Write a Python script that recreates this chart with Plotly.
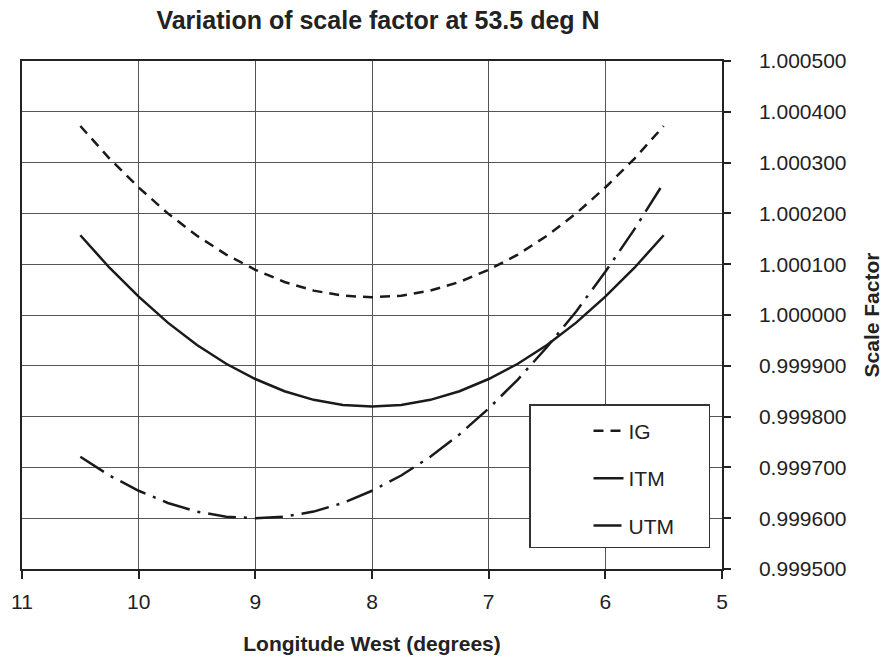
import plotly.graph_objects as go

longitude = [10.5, 10.25, 10.0, 9.75, 9.5, 9.25, 9.0, 8.75, 8.5, 8.25, 8.0,
             7.75, 7.5, 7.25, 7.0, 6.75, 6.5, 6.25, 6.0, 5.75, 5.5]

ig = [1.000372, 1.000308, 1.000251, 1.000200, 1.000156, 1.000119, 1.000089,
      1.000065, 1.000048, 1.000038, 1.000035, 1.000038, 1.000048, 1.000065,
      1.000089, 1.000119, 1.000156, 1.000200, 1.000251, 1.000308, 1.000372]

itm = [1.000157, 1.000093, 1.000036, 0.999985, 0.999941, 0.999904, 0.999874,
       0.999850, 0.999833, 0.999823, 0.999820, 0.999823, 0.999833, 0.999850,
       0.999874, 0.999904, 0.999941, 0.999985, 1.000036, 1.000093, 1.000157]

utm = [0.999721, 0.999684, 0.999654, 0.999630, 0.999613, 0.999603, 0.999600,
       0.999603, 0.999613, 0.999630, 0.999654, 0.999684, 0.999721, 0.999765,
       0.999816, 0.999873, 0.999937, 1.000007, 1.000085, 1.000169, 1.000260]

x_ticks = [11, 10, 9, 8, 7, 6, 5]
y_ticks = [0.9995, 0.9996, 0.9997, 0.9998, 0.9999, 1.0, 1.0001, 1.0002, 1.0003, 1.0004, 1.0005]

FONT = "Liberation Sans, Arial, sans-serif"
INK = "#222222"
pad = "\u00a0" * 5

W, H = 885, 659

fig = go.Figure()
fig.add_trace(go.Scatter(x=longitude, y=ig, mode="lines", name="IG" + pad, legendgroup="a",
                         line=dict(color="#1a1a1a", width=2.5, dash="10px,7px")))
fig.add_trace(go.Scatter(x=longitude, y=itm, mode="lines", name="ITM" + pad, legendgroup="b",
                         line=dict(color="#1a1a1a", width=2.5, dash="solid")))
fig.add_trace(go.Scatter(x=longitude, y=utm, mode="lines", name="UTM" + pad, legendgroup="c",
                         line=dict(color="#1a1a1a", width=2.5, dash="28px,8px,3px,8px")))

fig.update_layout(
    width=W, height=H,
    margin=dict(l=22, r=163, t=61, b=90),
    paper_bgcolor="white", plot_bgcolor="white",
    font=dict(family=FONT, size=21, color=INK),
    title=dict(text="<b>Variation of scale factor at 53.5 deg N</b>",
               x=378 / W, xanchor="center", y=1 - 20 / H, yanchor="middle",
               font=dict(size=25, color=INK)),
    showlegend=True,
    legend=dict(x=(529 - 22) / 700, y=(569 - 404) / 508, xanchor="left", yanchor="top",
                bgcolor="white", bordercolor="#333333", borderwidth=1.5,
                font=dict(size=21, color=INK), tracegroupgap=17, indentation=58,
                traceorder="grouped",
                title=dict(text="\u00a0", font=dict(size=4))),
)

fig.update_xaxes(
    range=[11, 5], tickvals=x_ticks, ticktext=[str(v) for v in x_ticks],
    showgrid=True, gridcolor="#555555", gridwidth=1,
    showline=True, linecolor="#222222", linewidth=1.5, mirror=True,
    ticks="outside", ticklen=8, tickcolor="#222222", tickwidth=1.5,
    ticklabelstandoff=5, zeroline=False, automargin=False,
    title=dict(text="<b>Longitude West (degrees)</b>", standoff=24,
               font=dict(size=21, color=INK)),
)
fig.update_yaxes(
    range=[0.9995, 1.0005], side="right", tickvals=y_ticks,
    tickformat=".6f",
    showgrid=True, gridcolor="#555555", gridwidth=1,
    showline=True, linecolor="#222222", linewidth=1.5, mirror=True,
    ticks="outside", ticklen=7, tickcolor="#222222", tickwidth=1.5,
    ticklabelstandoff=24, zeroline=False, automargin=False,
    title=dict(text="<b>Scale Factor</b>", standoff=19, font=dict(size=21, color=INK)),
)

fig.write_html("out.html", config={"displayModeBar": False},
               post_script="document.body.style.margin='0px';")
